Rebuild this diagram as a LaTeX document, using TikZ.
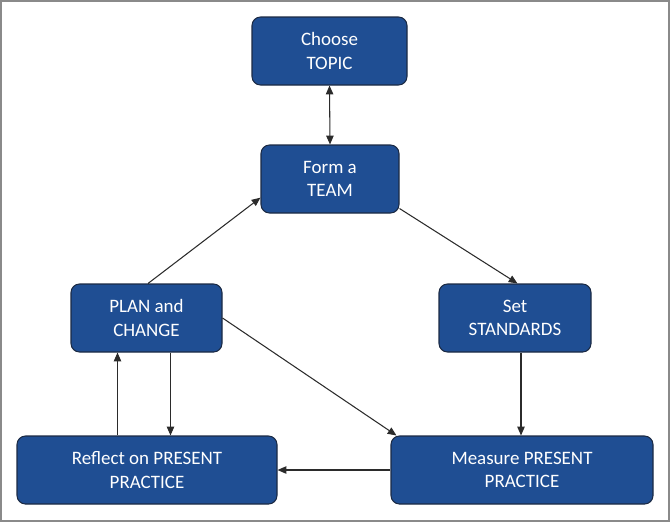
\documentclass[tikz,border=0pt]{standalone}
\usepackage{fontspec}
\setmainfont{Carlito}
\usepackage{tikz}
\usetikzlibrary{arrows.meta, positioning, calc}
\definecolor{cycleblue}{HTML}{1F4E93}
\definecolor{cycleedge}{HTML}{1B2A44}
\definecolor{cyclegrey}{HTML}{8A8A8A}
\definecolor{cyclelink}{HTML}{2B2B2B}

\begin{document}
\begin{tikzpicture}[
    stage/.style={draw=cycleedge, fill=cycleblue, text=white, rounded corners=0.17cm,
      minimum height=1.36cm, inner sep=0pt, align=center,
      font=\fontsize{10.8}{13.2}\selectfont, line width=0.6pt},
    link/.style={draw=cyclelink, line width=0.6pt, -{Triangle[length=5pt, width=4.2pt]}}
  ]
  \useasboundingbox (0,0) rectangle (13.4,-10.44);
  \draw[cyclegrey, line width=1.3pt] (0.02,-0.02) rectangle (13.38,-10.42);

  \node[stage, minimum width=3.10cm] (topic) at (6.59,-1.02) {Choose\\TOPIC};
  \node[stage, minimum width=2.76cm] (team)  at (6.60,-3.58) {Form a\\TEAM};
  \node[stage, minimum width=3.02cm] (plan)  at (2.93,-6.36) {PLAN and\\CHANGE};
  \node[stage, minimum width=3.04cm] (std)   at (10.30,-6.36) {Set\\STANDARDS};
  \node[stage, minimum width=5.20cm] (refl)  at (2.94,-9.40) {Reflect on PRESENT\\PRACTICE};
  \node[stage, minimum width=5.24cm] (meas)  at (10.44,-9.40) {Measure PRESENT\\PRACTICE};

  \draw[link, {Triangle[length=5pt, width=4.2pt]}-{Triangle[length=5pt, width=4.2pt]}] (topic.south) -- (team.north);
  \draw[link] (team.-23) -- ([xshift=0.05cm]std.north);
  \draw[link] ([xshift=0.03cm]plan.north) -- (team.195);
  \draw[link] (plan.east) -- ([xshift=0.12cm]meas.north west);
  \draw[link] ([xshift=0.48cm]plan.south) -- ([xshift=0.48cm]plan.south |- refl.north);
  \draw[link] ([xshift=-0.58cm]plan.south |- refl.north) -- ([xshift=-0.58cm]plan.south);
  \draw[link] ([xshift=0.12cm]std.south) -- ([xshift=0.12cm]std.south |- meas.north);
  \draw[link] (meas.west) -- (refl.east);
\end{tikzpicture}
\end{document}
